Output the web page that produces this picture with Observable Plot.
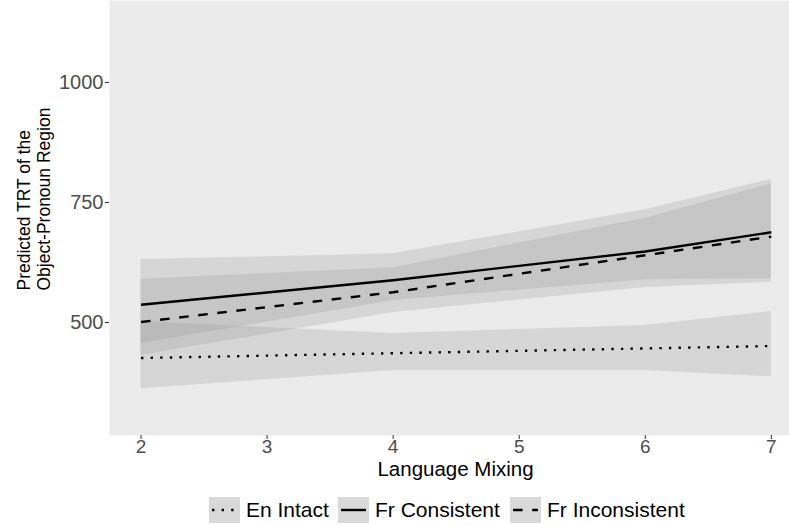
<!DOCTYPE html>
<html>
<head>
<meta charset="utf-8">
<script src="https://cdn.jsdelivr.net/npm/d3@7"></script>
<script src="https://cdn.jsdelivr.net/npm/@observablehq/plot@0.6"></script>
<style>
  html, body { margin: 0; padding: 0; background: #ffffff; }
  body { width: 789px; height: 525px; overflow: hidden; font-family: "Liberation Sans", Arial, sans-serif; }
  #legend { position: relative; height: 35px; width: 789px; }
  .item { position: absolute; top: 7px; display: flex; align-items: center; }
  .key { width: 31px; height: 26px; display: block; }
  .lab { font-size: 21px; color: #000; margin-left: 6px; white-space: nowrap; line-height: 26px; }
</style>
</head>
<body>
<div id="chart"></div>
<div id="legend"></div>
<script>
// ---- data ----
const xs = [2, 4, 6, 7];
const groups = ["En Intact", "Fr Consistent", "Fr Inconsistent"];
const enFit = [426, 436, 446, 451];
const enLow = [362, 400, 400, 387];
const enHigh = [502, 477, 494, 523];
const consFit = [537, 588, 648, 688];
const consLow = [456, 546, 589, 591];
const consHigh = [631, 643, 735, 798];
const inconsFit = [501, 563, 640, 679];
const inconsLow = [431, 521, 573, 584];
const inconsHigh = [590, 614, 717, 789];
const xTicks = [2, 3, 4, 5, 6, 7];
const yTicks = [500, 750, 1000];
const dashes = ["2.4,7.2", null, "9.6,9.6"];

const series = [
  {fit: enFit, low: enLow, high: enHigh},
  {fit: consFit, low: consLow, high: consHigh},
  {fit: inconsFit, low: inconsLow, high: inconsHigh}
];
const rows = [];
series.forEach((s, gi) => xs.forEach((x, i) => rows.push({group: groups[gi], x, fit: s.fit[i], low: s.low[i], high: s.high[i]})));

const marks = [
  Plot.frame({fill: "#EBEBEB", stroke: null}),
  Plot.areaY(rows, {x: "x", y1: "low", y2: "high", z: "group", fill: "#999999", fillOpacity: 0.25}),
];
groups.forEach((g, gi) => {
  marks.push(Plot.line(rows.filter(r => r.group === g), {
    x: "x", y: "fit", stroke: "#000", strokeWidth: 2.4,
    strokeDasharray: dashes[gi] ?? undefined, strokeLinecap: "butt"
  }));
});
marks.push(
  Plot.axisX(xTicks, {tickSize: 4, tickPadding: 0, stroke: "#333", fill: "#4D4D4D", fontSize: 19, tickFormat: d => String(d), label: null}),
  Plot.axisY(yTicks, {tickSize: 4, tickPadding: 2, stroke: "#333", fill: "#4D4D4D", fontSize: 20, tickFormat: d => String(d), label: null}),
  Plot.text(["Language Mixing"], {frameAnchor: "bottom", dx: 6, dy: 40, fontSize: 20.5, fill: "#000"}),
  Plot.text(["Predicted TRT of the\nObject-Pronoun Region"], {frameAnchor: "left", rotate: -90, textAnchor: "start", dx: -76, dy: 72.5, fontSize: 17.5, lineHeight: 1.15, fill: "#000"})
);

const chart = Plot.plot({
  width: 789,
  height: 490,
  marginLeft: 109,
  marginRight: 0,
  marginTop: 0,
  marginBottom: 55,
  style: {fontFamily: "'Liberation Sans', Arial, sans-serif", background: "#ffffff", overflow: "visible"},
  x: {domain: [1.75, 7.144]},
  y: {domain: [264.6, 1170.8]},
  marks
});
document.getElementById("chart").appendChild(chart);

// ---- legend ----
const legend = document.getElementById("legend");
const lefts = [209, 338, 510];
groups.forEach((g, gi) => {
  const item = document.createElement("div");
  item.className = "item";
  item.style.left = lefts[gi] + "px";
  const key = document.createElementNS("http://www.w3.org/2000/svg", "svg");
  key.setAttribute("width", 31); key.setAttribute("height", 26);
  key.setAttribute("class", "key");
  const rect = document.createElementNS("http://www.w3.org/2000/svg", "rect");
  rect.setAttribute("width", 31); rect.setAttribute("height", 26); rect.setAttribute("fill", "#D9D9D9");
  key.appendChild(rect);
  const ln = document.createElementNS("http://www.w3.org/2000/svg", "line");
  ln.setAttribute("x1", 3); ln.setAttribute("x2", 28); ln.setAttribute("y1", 13); ln.setAttribute("y2", 13);
  ln.setAttribute("stroke", "#000"); ln.setAttribute("stroke-width", 2.4);
  if (dashes[gi]) ln.setAttribute("stroke-dasharray", dashes[gi]);
  key.appendChild(ln);
  const lab = document.createElement("span");
  lab.className = "lab";
  lab.textContent = g;
  item.appendChild(key); item.appendChild(lab);
  legend.appendChild(item);
});
</script>
</body>
</html>
